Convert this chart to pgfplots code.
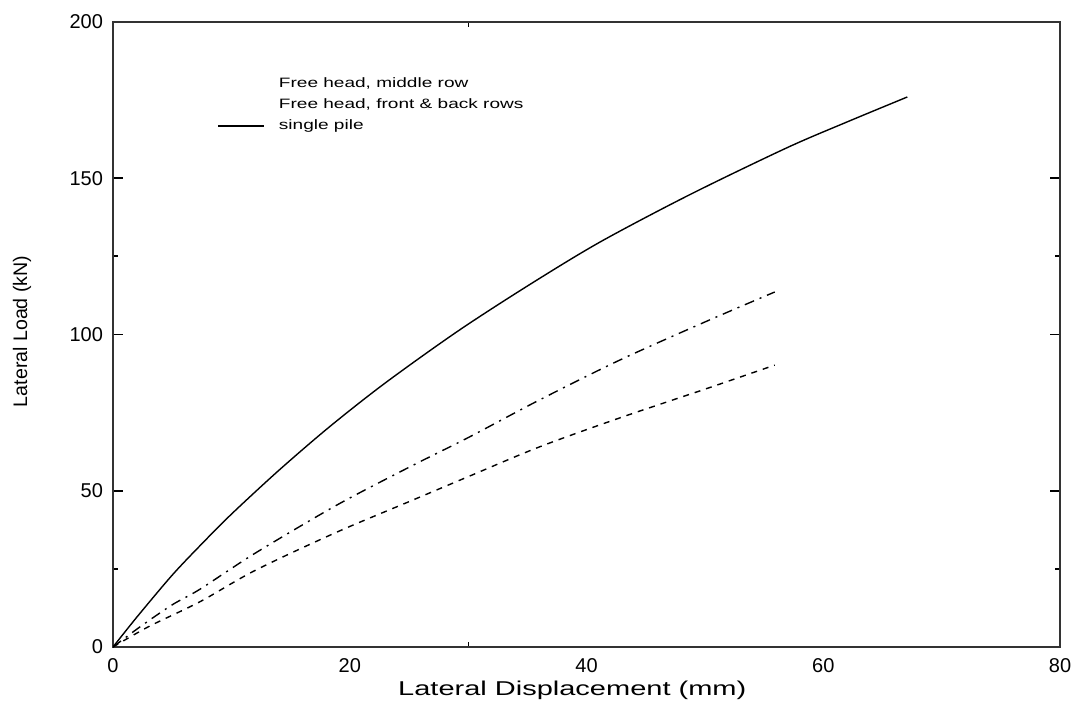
\documentclass[border=0pt]{standalone}
\usepackage{fontspec}
\setmainfont{Liberation Sans}
\newfontfamily\widefont[FakeStretch=1.45]{Liberation Sans}
\newfontfamily\legfont[FakeStretch=1.4]{Liberation Sans}
\usepackage{pgfplots}
\pgfplotsset{compat=1.18}
\begin{document}
\begin{tikzpicture}[x=1bp,y=1bp]
\path[use as bounding box] (-56.5,-30.5) rectangle (481,323.5);
\begin{axis}[
  at={(0,0)}, anchor=south west,
  scale only axis, width=473.5bp, height=312.5bp,
  xmin=0, xmax=80, ymin=0, ymax=200,
  xtick={0,20,40,60,80}, ytick={0,50,100,150,200},
  minor xtick={30}, minor ytick={25,125},
  major tick length=5bp, minor tick length=2.5bp,
  tick align=inside,
  tick style={line width=0.9bp, black},
  x tick style={draw=none}, minor x tick style={draw=black, line width=0.6bp},
  axis line style={line width=1.2bp, black!80},
  /pgf/number format/assume math mode=true,
  tick label style={font=\fontsize{10bp}{12bp}\selectfont},
  xticklabel style={yshift=-2bp},
  yticklabel style={xshift=-1.5bp},
  xlabel={Lateral Displacement (mm)},
  ylabel={Lateral Load (kN)},
  xlabel style={at={(axis description cs:0.485,-0.069)}, anchor=center, font=\widefont\fontsize{10bp}{11bp}\selectfont},
  ylabel style={at={(axis description cs:-0.096,0.505)}, anchor=center, font=\fontsize{9.8bp}{12bp}\selectfont},
  legend cell align=left,
  legend style={at={(axis description cs:0.11,0.912)}, anchor=north west,
    draw=none, fill=none, inner sep=0pt, column sep=7bp, row sep=4bp,
    nodes={inner sep=0pt, text height=5bp, text depth=1.5bp},
    font=\legfont\fontsize{6.8bp}{8bp}\selectfont},
  legend image code/.code={\draw[#1] (0bp,0bp) -- (23bp,0bp);},
]
\addplot[black, line width=0.7bp, smooth, dash pattern=on 3bp off 3bp, legend image code/.code={}]
  coordinates {(0,0) (3,6.5) (7.35,14.5) (12,24.5) (18.75,36.5) (25,46.5) (30,54.5) (36,64) (42.8,73.3) (50,82.5) (55.9,90.2)};
\addlegendentry{Free head, middle row}
\addplot[black, line width=0.7bp, smooth, dash pattern=on 5bp off 3bp on 1bp off 3bp, legend image code/.code={}]
  coordinates {(0,0) (2.3,6.5) (5,13.5) (7.35,18.5) (12,30) (18.9,45.4) (25,57.5) (30,67) (36,79) (42.8,91.8) (50,104) (55.9,113.6)};
\addlegendentry{Free head, front \& back rows}
\addplot[black, line width=0.7bp, smooth]
  coordinates {(0,0) (2,9.5) (5,23) (7.5,33) (10,42.5) (14,56.5) (18.3,70.5) (23,84.5) (29.1,101) (35,115.5) (41.1,129.5) (48.7,144.7) (56.9,159.7) (62,168) (67.1,176)};
\addlegendentry{single pile}
\end{axis}
\end{tikzpicture}
\end{document}
